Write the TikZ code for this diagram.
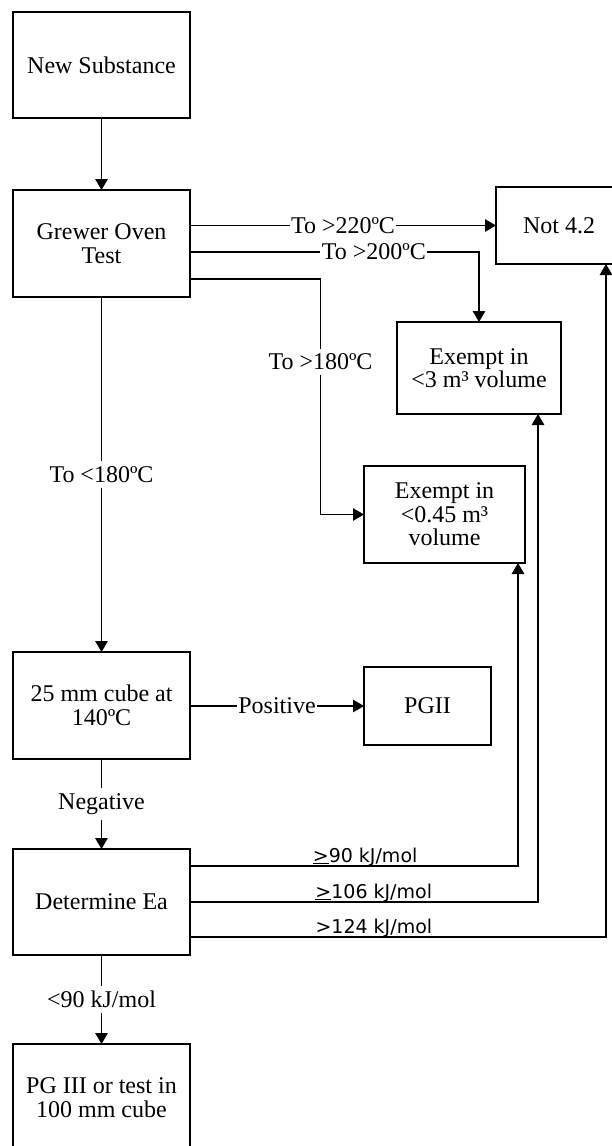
\documentclass[tikz,border=0pt]{standalone}
\usepackage{fontspec}
\setmainfont{Liberation Serif}
\newfontfamily\sansf{DejaVu Sans}
\usetikzlibrary{arrows.meta}
\begin{document}
\begin{tikzpicture}[x=1pt,y=-1pt,
  box/.style={draw=black, line width=1.5pt, align=center, inner sep=0pt, outer sep=0pt,
    font=\fontsize{24}{23.5}\selectfont},
  conn/.style={line width=1.3pt, -{Triangle[length=11pt,width=12.5pt]}},
  lbl/.style={fill=white, font=\fontsize{24}{24}\selectfont, inner xsep=1.5pt, inner ysep=5pt},
  klbl/.style={font=\sansf\fontsize{19}{22}\selectfont, anchor=base, yshift=4pt, inner sep=0pt}]
\useasboundingbox (0,0) rectangle (612,1146);
\clip (0,0) rectangle (612,1146);

\node[box, minimum width=177pt, minimum height=106pt] (new) at (101.5,65) {New Substance};
\node[box, minimum width=177pt, minimum height=107pt] (grewer) at (101.5,243.5) {Grewer Oven\\Test};
\node[box, minimum width=126pt, minimum height=77pt] (not42) at (559,225.5) {Not 4.2};
\node[box, minimum width=164pt, minimum height=92pt] (ex3) at (479,368) {Exempt in\\<3 m³ volume};
\node[box, minimum width=161pt, minimum height=97pt] (ex045) at (444.5,514.5) {Exempt in\\<0.45 m³\\volume};
\node[box, minimum width=177pt, minimum height=107pt] (cube) at (101.5,705.5) {25 mm cube at\\140ºC};
\node[box, minimum width=127pt, minimum height=78pt] (pg2) at (427.5,706) {PGII};
\node[box, minimum width=177pt, minimum height=106pt] (detea) at (101.5,902) {Determine Ea};
\node[box, minimum width=177pt, minimum height=107pt] (pg3) at (101.5,1097.5) {PG III or test in\\100 mm cube};

\draw[conn] (new) -- (grewer);
\draw[conn] (grewer.east |- not42.west) -- node[lbl]{To >220ºC} (not42.west);
\draw[conn] ([yshift=-8.5pt]grewer.east) -| node[lbl,pos=0.318]{To >200ºC} (ex3.north);
\draw[conn] ([yshift=-35.5pt]grewer.east) -| node[lbl,pos=0.676]{To >180ºC} ([xshift=-43.5pt]ex045.west) -- (ex045.west);
\draw[conn] (grewer) -- node[lbl]{To <180ºC} (cube);
\draw[conn] (cube.east |- pg2.west) -- node[lbl]{Positive} (pg2.west);
\draw[conn] (cube) -- node[lbl]{Negative} (detea);
\draw[conn] ([yshift=36pt]detea.east) -| node[klbl,pos=0.267]{\underline{>}90 kJ/mol} ([xshift=73.5pt]ex045.south);
\draw[conn] (detea.east) -| node[klbl,pos=0.264]{\underline{>}106 kJ/mol} ([xshift=59pt]ex3.south);
\draw[conn] ([yshift=-35pt]detea.east) -| node[klbl,pos=0.221]{>124 kJ/mol} ([xshift=47pt]not42.south);
\draw[conn] (detea) -- node[lbl]{<90 kJ/mol} (pg3);
\end{tikzpicture}
\end{document}
